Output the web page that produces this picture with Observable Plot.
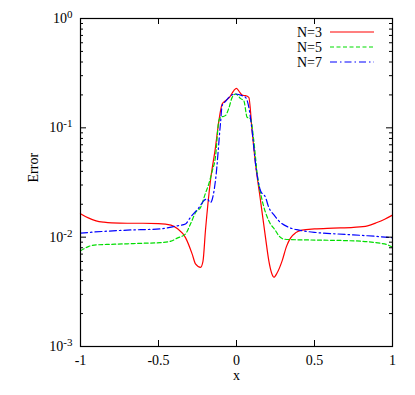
<!DOCTYPE html>
<html>
<head>
<meta charset="utf-8">
<script src="https://cdn.jsdelivr.net/npm/d3@7"></script>
<script src="https://cdn.jsdelivr.net/npm/@observablehq/plot@0.6"></script>
<style>
  html, body { margin: 0; padding: 0; background: #fff; }
  #wrap { position: relative; width: 415px; height: 395px; }
  #legend { position: absolute; left: 0; top: 0; pointer-events: none; }
</style>
</head>
<body>
<div id="wrap"></div>
<script>
// ---- data ----
const seriesNames = ["N=3", "N=5", "N=7"];
const seriesColors = ["#ff0000", "#00dd00", "#0000ff"];
const seriesDash = [null, "4,2.5", "7,3,1.5,3"];

const xN3 = [-1, -0.95, -0.9, -0.85, -0.8, -0.7, -0.6, -0.5, -0.42, -0.38, -0.327, -0.284, -0.263, -0.23, -0.215, -0.199, -0.167, -0.135, -0.113, -0.092, -0.07, -0.045, -0.017, 0, 0.02, 0.04, 0.058, 0.079, 0.1, 0.122, 0.154, 0.186, 0.207, 0.225, 0.24, 0.26, 0.293, 0.32, 0.346, 0.38, 0.42, 0.5, 0.62, 0.75, 0.84, 0.9, 0.95, 1];
const yN3 = [0.0164, 0.0150, 0.0141, 0.0137, 0.0135, 0.0134, 0.0134, 0.0133, 0.0129, 0.0120, 0.0099, 0.0070, 0.0057, 0.0053, 0.0060, 0.0115, 0.0328, 0.066, 0.116, 0.165, 0.177, 0.19, 0.219, 0.23, 0.212, 0.198, 0.197, 0.19, 0.094, 0.0467, 0.0216, 0.0099, 0.0061, 0.0047, 0.0043, 0.0047, 0.0061, 0.0082, 0.0098, 0.0110, 0.0116, 0.0119, 0.0121, 0.0123, 0.0127, 0.0136, 0.0146, 0.0159];

const xN5 = [-1, -0.95, -0.9, -0.8, -0.7, -0.6, -0.49, -0.42, -0.38, -0.327, -0.295, -0.26, -0.23, -0.2, -0.178, -0.156, -0.135, -0.113, -0.1, -0.085, -0.07, -0.05, -0.028, -0.006, 0.026, 0.047, 0.068, 0.09, 0.111, 0.133, 0.165, 0.207, 0.25, 0.271, 0.303, 0.35, 0.52, 0.7, 0.84, 0.92, 0.96, 1];
const yN5 = [0.0075, 0.0082, 0.0085, 0.0086, 0.0087, 0.0088, 0.0089, 0.0092, 0.0098, 0.0107, 0.0132, 0.0170, 0.0187, 0.025, 0.0306, 0.040, 0.054, 0.116, 0.125, 0.127, 0.130, 0.15, 0.19, 0.204, 0.185, 0.177, 0.125, 0.121, 0.076, 0.0377, 0.0216, 0.0141, 0.0115, 0.0103, 0.0096, 0.0095, 0.0094, 0.0093, 0.0091, 0.0088, 0.0086, 0.0081];

const xN7 = [-1, -0.85, -0.7, -0.49, -0.38, -0.327, -0.295, -0.24, -0.21, -0.188, -0.167, -0.135, -0.103, -0.092, -0.07, -0.049, -0.006, 0.036, 0.058, 0.079, 0.1, 0.122, 0.154, 0.186, 0.207, 0.24, 0.271, 0.335, 0.4, 0.52, 0.7, 0.84, 1];
const yN7 = [0.0109, 0.0113, 0.0116, 0.0119, 0.0127, 0.0132, 0.0152, 0.0187, 0.0215, 0.0224, 0.0207, 0.0328, 0.109, 0.16, 0.175, 0.19, 0.204, 0.197, 0.19, 0.154, 0.094, 0.047, 0.0266, 0.0231, 0.0187, 0.0160, 0.0141, 0.0123, 0.0116, 0.0110, 0.0106, 0.0103, 0.0099];

const xTicks = [-1, -0.5, 0, 0.5, 1];
const xTickLabels = ["-1", "-0.5", "0", "0.5", "1"];
const yTicks = [1e-3, 1e-2, 1e-1, 1];
const yTickLabels = ["10^-3", "10^-2", "10^-1", "10^0"];
const xLabel = "x";
const yLabel = "Error";

// ---- build table ----
const xs = [xN3, xN5, xN7];
const ys = [yN3, yN5, yN7];
const rows = [];
seriesNames.forEach((name, i) => xs[i].forEach((x, j) => rows.push({series: name, x, y: ys[i][j]})));

const minorTicks = [];
for (let e = -3; e < 0; e++) for (let k = 2; k <= 9; k++) minorTicks.push(k * Math.pow(10, e));

const W = 415, H = 395, mL = 80, mR = 23, mT = 18, mB = 49;
const pw = W - mL - mR, ph = H - mT - mB;
const font = "'Liberation Serif', 'Times New Roman', serif";

const lineMarks = seriesNames.map((name, i) =>
  Plot.line(rows.filter(d => d.series === name), {
    x: "x", y: "y", stroke: seriesColors[i], strokeWidth: 1.2,
    strokeDasharray: seriesDash[i], curve: "monotone-x"
  })
);

const chart = Plot.plot({
  width: W, height: H,
  marginLeft: mL, marginRight: mR, marginTop: mT, marginBottom: mB,
  style: {fontFamily: font, fontSize: "14px", color: "#000", background: "#fff"},
  x: {domain: [-1, 1], axis: null},
  y: {type: "log", domain: [1e-3, 1], axis: null},
  marks: [
    ...lineMarks,
    // inward major/minor ticks
    Plot.tickY(yTicks, {y: d => d, insetRight: pw - 6, stroke: "#000"}),
    Plot.tickY(yTicks, {y: d => d, insetLeft: pw - 6, stroke: "#000"}),
    Plot.tickY(minorTicks, {y: d => d, insetRight: pw - 3, stroke: "#000"}),
    Plot.tickY(minorTicks, {y: d => d, insetLeft: pw - 3, stroke: "#000"}),
    Plot.tickX(xTicks, {x: d => d, insetTop: ph - 6, stroke: "#000"}),
    Plot.tickX(xTicks, {x: d => d, insetBottom: ph - 6, stroke: "#000"}),
    Plot.axisX(xTicks, {tickSize: 0, tickPadding: 9, tickFormat: d => xTickLabels[xTicks.indexOf(d)], fontSize: 14, label: null}),
    Plot.axisY(yTicks, {tickSize: 0, tickPadding: 8, tickFormat: d => yTickLabels[yTicks.indexOf(d)], fontSize: 14, label: null}),
    Plot.text([xLabel], {frameAnchor: "bottom", dy: 33, fontSize: 14}),
    Plot.text([yLabel], {frameAnchor: "left", dx: -47, rotate: -90, fontSize: 14}),
    Plot.frame({stroke: "#000", strokeWidth: 1.2})
  ]
});

// superscript exponents on the log axis labels
d3.select(chart).selectAll('g[aria-label="y-axis tick label"] text').each(function () {
  const t = d3.select(this);
  const parts = t.text().split("^");
  if (parts.length === 2) {
    t.text(parts[0]);
    t.append("tspan").attr("dy", "-0.45em").attr("font-size", "11px").text(parts[1]);
  }
});

const wrap = document.getElementById("wrap");
wrap.appendChild(chart);

// legend inside the top-right of the plot area
const leg = d3.select(wrap).append("svg").attr("id", "legend")
  .attr("width", W).attr("height", H)
  .style("font-family", font).style("font-size", "14px");
seriesNames.forEach((name, i) => {
  const cy = 32 + i * 15;
  leg.append("text").attr("x", 322).attr("y", cy).attr("dy", "0.35em")
    .attr("text-anchor", "end").attr("fill", "#000").text(name);
  leg.append("line").attr("x1", 330).attr("x2", 374).attr("y1", cy).attr("y2", cy)
    .attr("stroke", seriesColors[i]).attr("stroke-width", 1.2)
    .attr("stroke-dasharray", seriesDash[i]);
});
</script>
</body>
</html>
